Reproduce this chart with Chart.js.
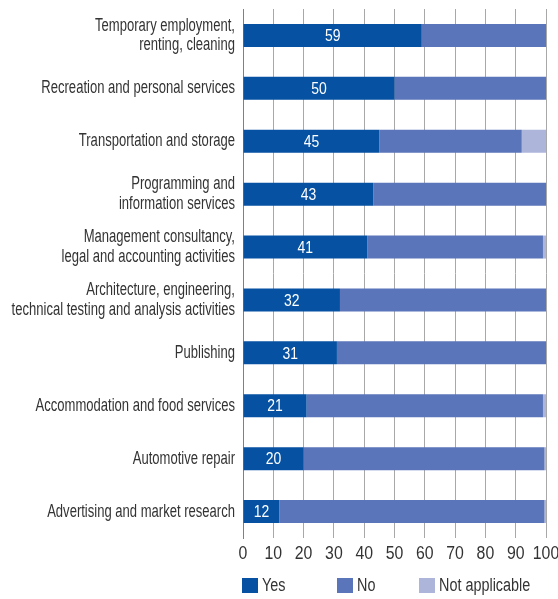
<!DOCTYPE html>
<html>
<head>
<meta charset="utf-8">
<script src="https://cdn.jsdelivr.net/npm/chart.js@4/dist/chart.umd.min.js"></script>
<style>
  html, body { margin: 0; padding: 0; background: #ffffff; }
  #wrap { width: 558px; height: 599px; position: relative; }
</style>
</head>
<body>
<div id="wrap"><canvas id="c" width="558" height="599"></canvas></div>
<script>
const categories = [
  ['Temporary employment,', 'renting, cleaning'],
  'Recreation and personal services',
  'Transportation and storage',
  ['Programming and', 'information services'],
  ['Management consultancy,', 'legal and accounting activities'],
  ['Architecture, engineering,', 'technical testing and analysis activities'],
  'Publishing',
  'Accommodation and food services',
  'Automotive repair',
  'Advertising and market research'
];
const seriesNames = ['Yes', 'No', 'Not applicable'];
const yesValues = [59, 50, 45, 43, 41, 32, 31, 21, 20, 12];
const noValues  = [41, 50, 47, 57, 58, 68, 69, 78, 79.5, 87.5];
const naValues  = [0, 0, 8, 0, 1, 0, 0, 1, 0.5, 0.5];
const xTickValues = [0, 10, 20, 30, 40, 50, 60, 70, 80, 90, 100];

const FONT = '"Liberation Sans", Arial, sans-serif';
const TEXT_COLOR = '#333333';
const COLORS = ['#0651a2', '#5a75b9', '#adb5db'];

// draw horizontally condensed text (narrow typeface look)
function narrowText(ctx, text, x, y, size, sx, align, color) {
  ctx.save();
  ctx.font = size + 'px ' + FONT;
  ctx.fillStyle = color;
  ctx.textAlign = align;
  ctx.textBaseline = 'middle';
  ctx.translate(x, y);
  ctx.scale(sx, 1);
  ctx.fillText(text, 0, 0);
  ctx.restore();
}

const textPlugin = {
  id: 'textPlugin',
  afterDatasetsDraw(chart) {
    const ctx = chart.ctx;
    const area = chart.chartArea;
    const yScale = chart.scales.y;
    const xScale = chart.scales.x;

    // category labels
    chart.data.labels.forEach((lab, i) => {
      const lines = Array.isArray(lab) ? lab : [lab];
      const cy = yScale.getPixelForTick(i);
      const lh = 19.5;
      const start = cy - (lines.length - 1) * lh / 2;
      lines.forEach((ln, k) => {
        narrowText(ctx, ln, area.left - 8, start + k * lh, 18, 0.725, 'right', TEXT_COLOR);
      });
    });

    // x tick labels
    xScale.ticks.forEach((t) => {
      narrowText(ctx, String(t.value), xScale.getPixelForValue(t.value), area.bottom + 16, 18, 0.88, 'center', TEXT_COLOR);
    });

    // value labels inside the "Yes" bars
    const meta = chart.getDatasetMeta(0);
    meta.data.forEach((el, i) => {
      const cx = (el.x + el.base) / 2;
      narrowText(ctx, String(chart.data.datasets[0].data[i]), cx, el.y + 1, 17, 0.82, 'center', '#ffffff');
    });

    // legend
    const offsets = [0, 95, 177];
    const ly = area.bottom + 40;
    chart.data.datasets.forEach((ds, i) => {
      const x = area.left - 1 + offsets[i];
      ctx.save();
      ctx.fillStyle = ds.backgroundColor;
      ctx.fillRect(x, ly, 16, 15);
      ctx.restore();
      narrowText(ctx, ds.label, x + 20, ly + 8.5, 18, 0.8, 'left', TEXT_COLOR);
    });
  }
};

new Chart(document.getElementById('c'), {
  type: 'bar',
  data: {
    labels: categories,
    datasets: [
      { label: seriesNames[0], data: yesValues, backgroundColor: COLORS[0] },
      { label: seriesNames[1], data: noValues, backgroundColor: COLORS[1] },
      { label: seriesNames[2], data: naValues, backgroundColor: COLORS[2] }
    ]
  },
  options: {
    indexAxis: 'y',
    responsive: false,
    animation: false,
    devicePixelRatio: 1,
    datasets: { bar: { categoryPercentage: 1, barPercentage: 0.435, borderWidth: 0 } },
    layout: { padding: { top: 9, left: 0, right: 12, bottom: 0 } },
    plugins: {
      legend: { display: false },
      tooltip: { enabled: false }
    },
    scales: {
      x: {
        stacked: true,
        min: 0, max: 100,
        afterBuildTicks(scale) { scale.ticks = xTickValues.map(v => ({ value: v })); },
        afterFit(scale) { scale.height = 61; },
        grid: { color: '#a8a8a8', lineWidth: 1, drawTicks: false },
        border: { display: false },
        ticks: { display: false }
      },
      y: {
        stacked: true,
        afterFit(scale) { scale.width = 243; },
        grid: { display: false, drawTicks: false },
        border: { display: true, color: '#808080', width: 1 },
        ticks: { display: false }
      }
    }
  },
  plugins: [textPlugin]
});
</script>
</body>
</html>
